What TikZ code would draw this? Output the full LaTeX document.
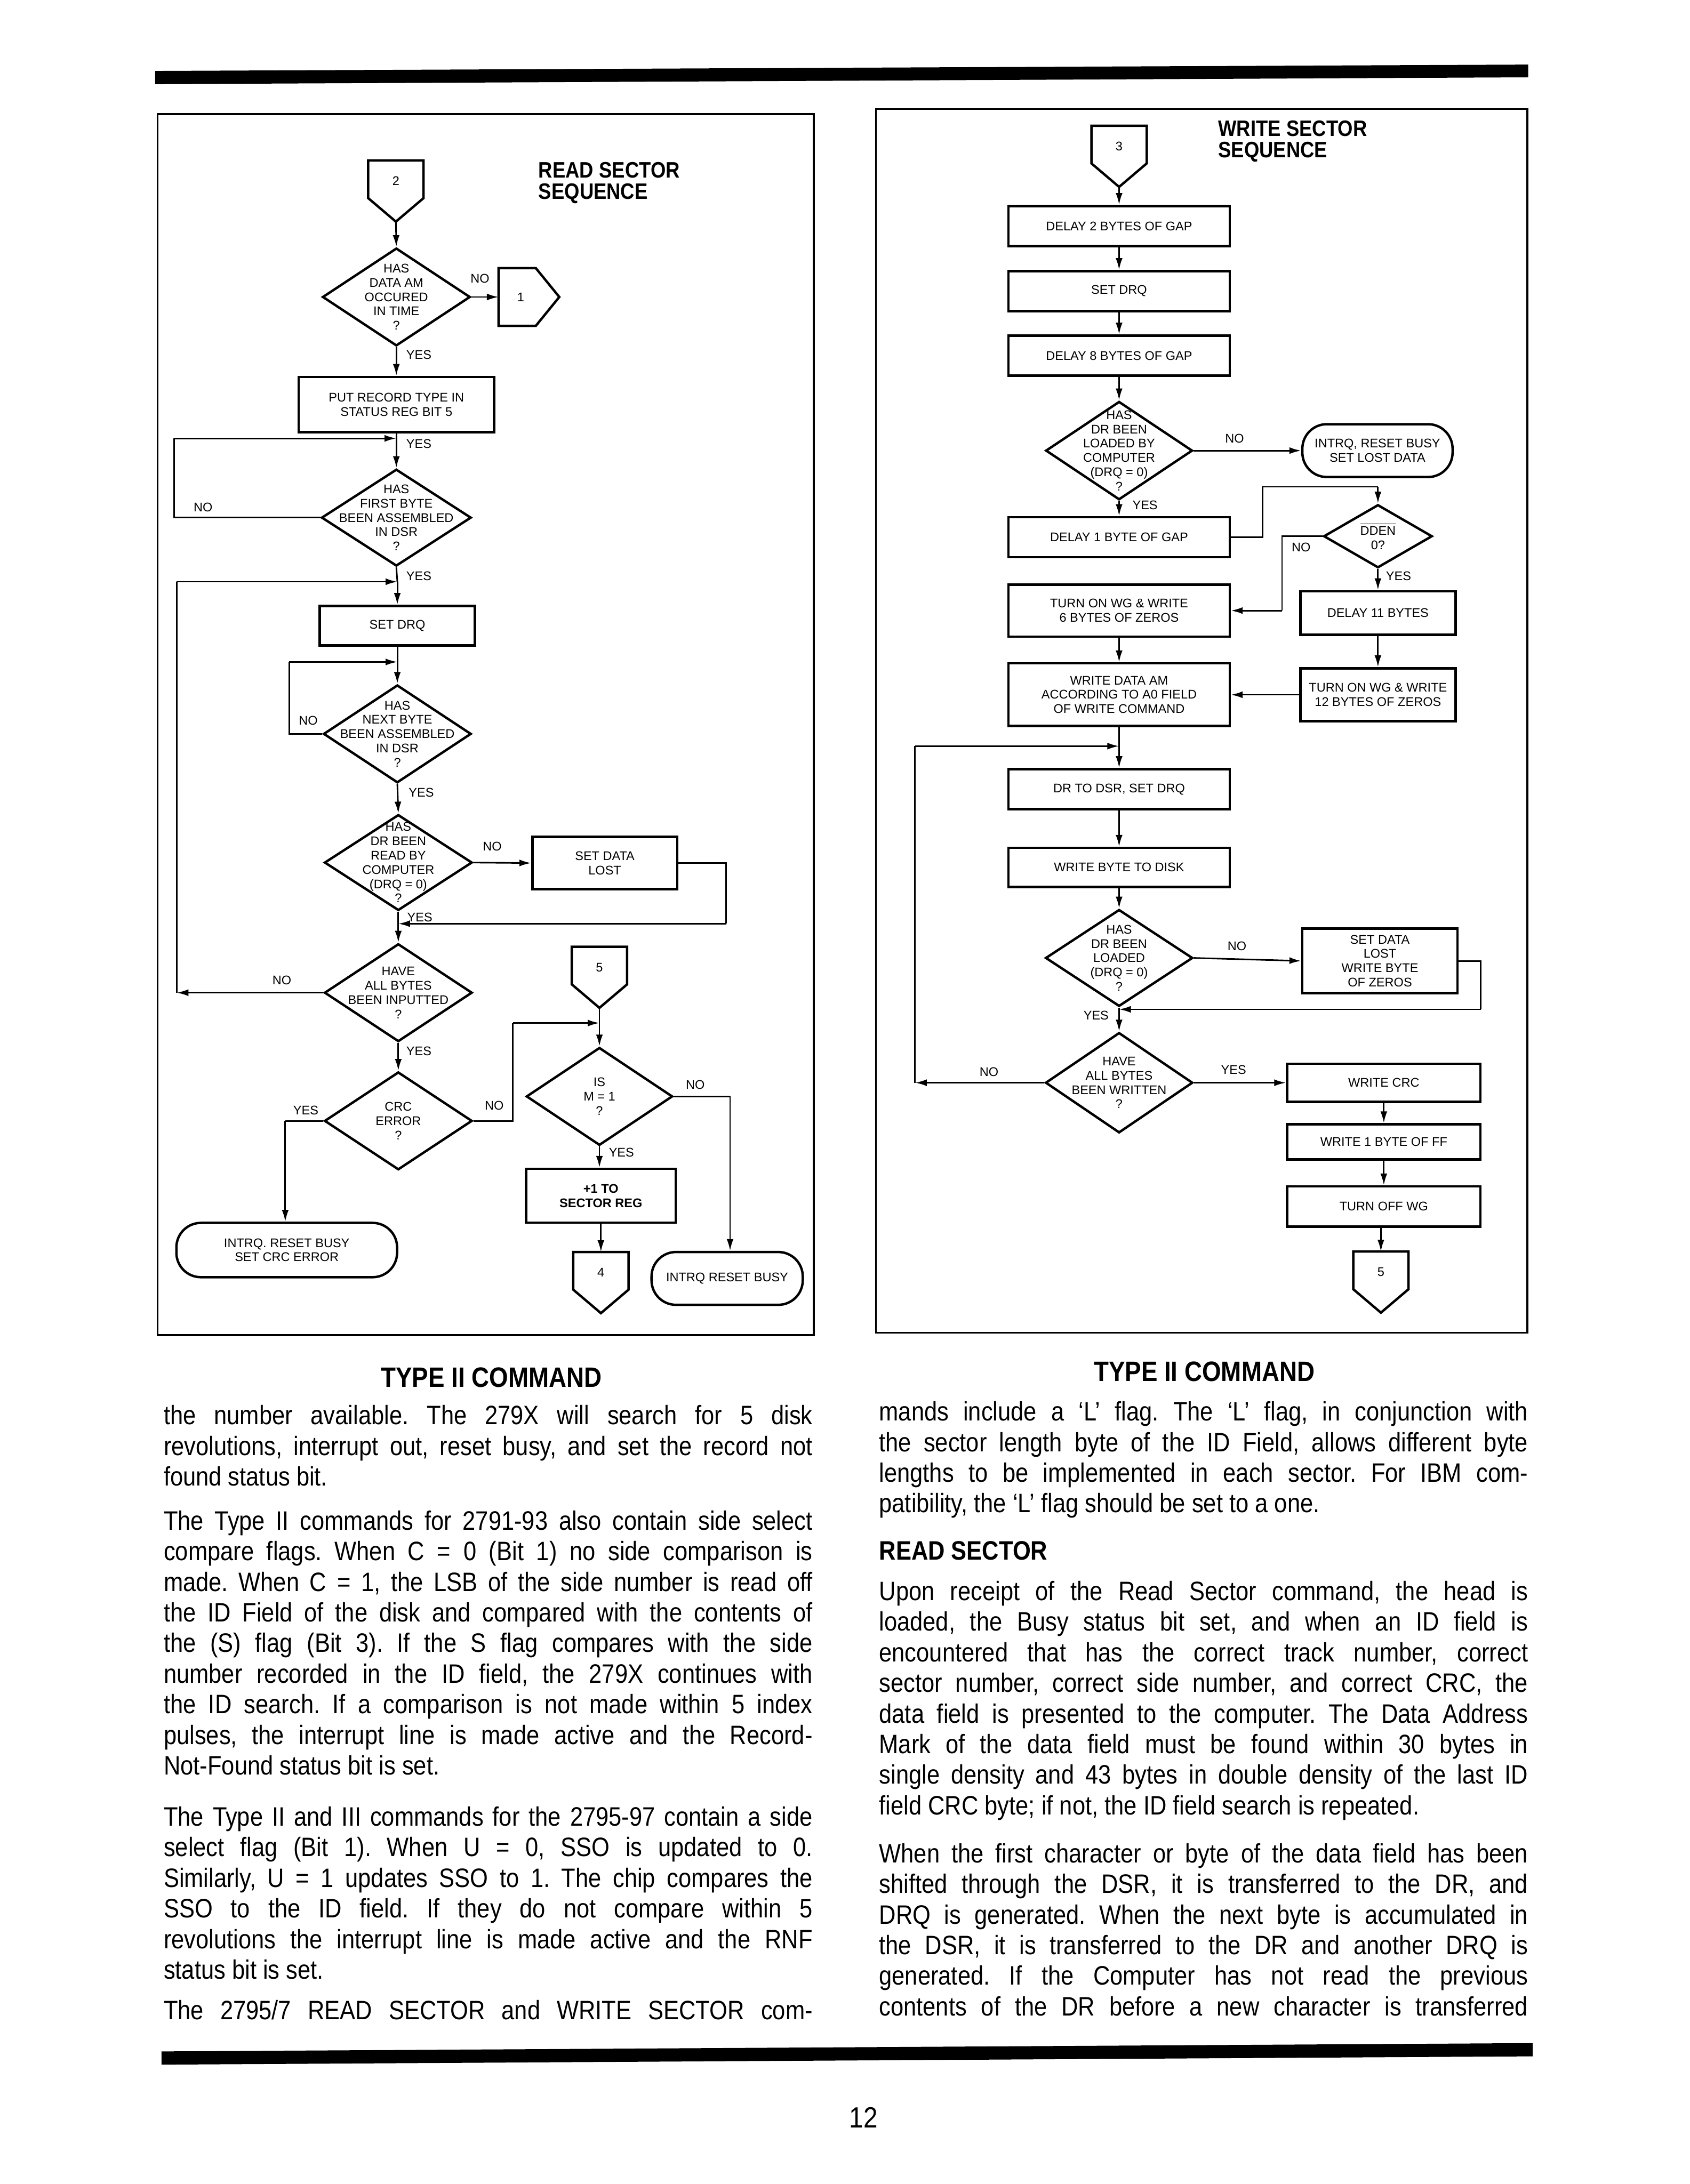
\documentclass[tikz,border=0pt]{standalone}
\usepackage{fontspec}
\setmainfont{Liberation Sans}
\newfontfamily\bodyface{Liberation Sans}[FakeStretch=0.87]
\usetikzlibrary{shapes.geometric,arrows.meta}

\newcommand{\flowfont}{\fontsize{7.3}{8.3}\selectfont}
\newcommand{\bodyfont}{\bodyface\fontsize{15.5}{17.8}\selectfont\frenchspacing}
\newcommand{\jline}[1]{\makebox[13.26cm][s]{\spaceskip=0pt\xspaceskip=0pt #1}}

\begin{document}
\begin{tikzpicture}[
    procbox/.style={draw, rectangle, line width=1.4pt, align=center, font=\flowfont, inner sep=1pt},
    wbox/.style={procbox, minimum width=4.52cm, minimum height=0.82cm},
    decision/.style={diamond, draw, line width=1.4pt, inner sep=0pt, minimum width=3.02cm, minimum height=2cm},
    dtext/.style={align=center, font=\flowfont, inner sep=0pt},
    terminal/.style={draw, rectangle, rounded corners=0.5cm, line width=1.4pt, align=center, font=\flowfont},
    offdown/.pic={
        \draw[line width=1.4pt] (-0.565,0) -- (0.565,0) -- (0.565,-0.77) -- (0,-1.25) -- (-0.565,-0.77) -- cycle;
        \node[font=\flowfont, inner sep=0pt] (-num) at (0,-0.42) {\tikzpictext};
        \coordinate (-top) at (0,0);
        \coordinate (-tip) at (0,-1.25);
    },
    offright/.pic={
        \draw[line width=1.4pt] (0,0.59) -- (0.76,0.59) -- (1.24,0) -- (0.76,-0.59) -- (0,-0.59) -- cycle;
        \node[font=\flowfont, inner sep=0pt] (-num) at (0.45,0) {\tikzpictext};
        \coordinate (-in) at (0,0);
    },
    yesno/.style={font=\flowfont, inner sep=0pt},
    flow/.style={line width=0.9pt, -{Latex[length=2.4mm,width=1.4mm]}},
    link/.style={line width=0.9pt},
    panel/.style={line width=1.1pt},
    seqtitle/.style={anchor=west, align=left, inner sep=0pt, font=\bodyface\bfseries\fontsize{13}{12.5}\selectfont},
    colhead/.style={inner sep=0pt, font=\bodyface\bfseries\fontsize{16.3}{18}\selectfont},
    para/.style={anchor=base west, text width=13.26cm, align=justify, inner sep=0pt, font=\bodyfont},
    pagenum/.style={inner sep=0pt, font=\bodyface\fontsize{17}{19}\selectfont}
]
    \useasboundingbox (0,0) rectangle (34.53,-44.64);
    % Page rules and panels
    \fill (3.17,-1.45) -- (31.23,-1.32) -- (31.23,-1.58) -- (3.17,-1.72) -- cycle;
    \fill (3.30,-41.93) -- (31.32,-41.76) -- (31.32,-42.03) -- (3.30,-42.20) -- cycle;
    \draw[panel] (3.22,-2.33) rectangle (16.63,-27.29);
    \draw[panel] (17.90,-2.23) rectangle (31.21,-27.24);

    % Nodes: read sector
    \node[seqtitle] (rtitle) at (11.00,-3.74) {READ SECTOR\\SEQUENCE};
    \pic[pic text=2] (c2) at (8.09,-3.28) {offdown};
    \node[decision] (d1) at (8.10,-6.07) {};
    \node[dtext] (d1t) at (d1) {HAS\\DATA AM\\OCCURED\\IN TIME\\?};
    \pic[pic text=1] (c1) at (10.19,-6.07) {offright};
    \node[procbox, minimum width=3.99cm, minimum height=1.13cm] (b1) at (8.10,-8.27) {PUT RECORD TYPE IN\\STATUS REG BIT 5};
    \coordinate (j1) at (8.10,-8.96);
    \node[decision, minimum width=3.06cm, minimum height=1.98cm] (d2) at (8.10,-10.58) {};
    \node[dtext] (d2t) at (d2) {HAS\\FIRST BYTE\\BEEN ASSEMBLED\\IN DSR\\?};
    \coordinate (n1a) at (3.56,-10.58);
    \coordinate (n1b) at (3.56,-8.96);
    \coordinate (j2) at (8.12,-11.89);
    \node[procbox, minimum width=3.17cm, minimum height=0.81cm] (b2) at (8.12,-12.79) {SET DRQ};
    \coordinate (j3) at (8.12,-13.53);
    \node[decision] (d3) at (8.12,-15.00) {};
    \node[dtext] (d3t) at (d3) {HAS\\NEXT BYTE\\BEEN ASSEMBLED\\IN DSR\\?};
    \coordinate (n2a) at (5.91,-15.00);
    \coordinate (n2b) at (5.91,-13.53);
    \node[decision, minimum height=1.96cm] (d4) at (8.14,-17.63) {};
    \node[dtext] (d4t) at (d4) {HAS\\DR BEEN\\READ BY\\COMPUTER\\(DRQ = 0)\\?};
    \node[procbox, minimum width=2.96cm, minimum height=1.07cm] (b3) at (12.36,-17.64) {SET DATA\\LOST};
    \coordinate (n3a) at (14.84,-17.64);
    \coordinate (n3b) at (14.84,-18.88);
    \coordinate (j4) at (8.14,-18.88);
    \node[decision] (d5) at (8.14,-20.29) {};
    \node[dtext] (d5t) at (d5) {HAVE\\ALL BYTES\\BEEN INPUTTED\\?};
    \coordinate (n4a) at (3.61,-20.29);
    \coordinate (n4b) at (3.61,-11.89);
    \node[decision] (d6) at (8.14,-22.91) {};
    \node[dtext] (d6t) at (d6) {CRC\\ERROR\\?};
    \coordinate (n5a) at (5.83,-22.91);
    \node[terminal, minimum width=4.51cm, minimum height=1.11cm] (t1) at (5.86,-25.55) {INTRQ. RESET BUSY\\SET CRC ERROR};
    \coordinate (n6a) at (10.48,-22.91);
    \coordinate (n6b) at (10.48,-20.91);
    \coordinate (j5) at (12.25,-20.91);
    \pic[pic text=5] (c5) at (12.25,-19.35) {offdown};
    \node[decision, minimum width=2.99cm] (d7) at (12.25,-22.41) {};
    \node[dtext] (d7t) at (d7) {IS\\M = 1\\?};
    \coordinate (n7a) at (14.92,-22.41);
    \node[procbox, minimum width=3.06cm, minimum height=1.10cm, font=\flowfont\bfseries] (b4) at (12.28,-24.44) {+1 TO\\SECTOR REG};
    \pic[pic text=4] (c4) at (12.28,-25.59) {offdown};
    \node[terminal, minimum width=3.09cm, minimum height=1.08cm] (t2) at (14.86,-26.13) {INTRQ RESET BUSY};

    % Labels: read sector
    \node[yesno] (no1) at (9.81,-5.69) {NO};
    \node[yesno] (yes1) at (8.56,-7.25) {YES};
    \node[yesno] (yes2) at (8.56,-9.07) {YES};
    \node[yesno] (no2) at (4.15,-10.37) {NO};
    \node[yesno] (yes3) at (8.56,-11.77) {YES};
    \node[yesno] (no3) at (6.30,-14.73) {NO};
    \node[yesno] (yes4) at (8.61,-16.20) {YES};
    \node[yesno] (no4) at (10.06,-17.30) {NO};
    \node[yesno] (yes5) at (8.58,-18.75) {YES};
    \node[yesno] (no5) at (5.76,-20.03) {NO};
    \node[yesno] (yes6) at (8.56,-21.48) {YES};
    \node[yesno] (yes7) at (6.25,-22.69) {YES};
    \node[yesno] (no6) at (10.10,-22.60) {NO};
    \node[yesno] (no7) at (14.21,-22.17) {NO};
    \node[yesno] (yes8) at (12.70,-23.55) {YES};

    % Edges: read sector
    \draw[flow] (c2-tip) -- (d1.north);
    \draw[flow] (d1.east) -- (c1-in);
    \draw[flow] (d1.south) -- (b1.north);
    \draw[link] (b1.south) -- (j1);
    \draw[flow] (j1) -- (d2.north);
    \draw[link] (d2.west) -- (n1a) -- (n1b);
    \draw[flow] (n1b) -- (j1);
    \draw[link] (d2.south) -- (j2);
    \draw[flow] (j2) -- (b2.north);
    \draw[link] (b2.south) -- (j3);
    \draw[flow] (j3) -- (d3.north);
    \draw[link] (d3.west) -- (n2a) -- (n2b);
    \draw[flow] (n2b) -- (j3);
    \draw[flow] (d3.south) -- (d4.north);
    \draw[flow] (d4.east) -- (b3.west);
    \draw[link] (b3.east) -- (n3a) -- (n3b);
    \draw[flow] (n3b) -- (j4);
    \draw[link] (d4.south) -- (j4);
    \draw[flow] (j4) -- (d5.north);
    \draw[flow] (d5.west) -- (n4a);
    \draw[link] (n4a) -- (n4b);
    \draw[flow] (n4b) -- (j2);
    \draw[flow] (d5.south) -- (d6.north);
    \draw[link] (d6.west) -- (n5a);
    \draw[flow] (n5a) -- (t1.north -| n5a);
    \draw[link] (d6.east) -- (n6a) -- (n6b);
    \draw[flow] (n6b) -- (j5);
    \draw[link] (c5-tip) -- (j5);
    \draw[flow] (j5) -- (d7.north);
    \draw[flow] (d7.south) -- (b4.north -| d7.south);
    \draw[flow] (b4.south) -- (c4-top);
    \draw[link] (d7.east) -- (n7a);
    \draw[flow] (n7a) -- (t2.north -| n7a);

    % Nodes: write sector
    \node[seqtitle] (wtitle) at (24.89,-2.885) {WRITE SECTOR\\SEQUENCE};
    \pic[pic text=3] (c3) at (22.87,-2.57) {offdown};
    \node[wbox] (b5) at (22.87,-4.62) {DELAY 2 BYTES OF GAP};
    \node[wbox] (b6) at (22.87,-5.95) {SET DRQ};
    \node[wbox] (b7) at (22.87,-7.27) {DELAY 8 BYTES OF GAP};
    \node[decision, minimum width=3.0cm, minimum height=2.01cm] (d8) at (22.87,-9.21) {};
    \node[dtext] (d8t) at (d8) {HAS\\DR BEEN\\LOADED BY\\COMPUTER\\(DRQ = 0)\\?};
    \node[terminal, minimum width=3.07cm, minimum height=1.08cm] (t3) at (28.15,-9.21) {INTRQ, RESET BUSY\\SET LOST DATA};
    \node[wbox] (b8) at (22.87,-10.98) {DELAY 1 BYTE OF GAP};
    \coordinate (m1a) at (25.80,-10.98);
    \coordinate (m1b) at (25.80,-9.95);
    \coordinate (m1c) at (28.16,-9.95);
    \node[decision, minimum width=2.22cm, minimum height=1.29cm] (d9) at (28.16,-10.96) {};
    \node[dtext] (d9t) at (d9) {$\overline{\hbox{DDEN}}$\\0?};
    \coordinate (m2a) at (26.20,-10.96);
    \coordinate (m2b) at (26.20,-12.48);
    \node[procbox, minimum width=4.52cm, minimum height=1.06cm] (b9) at (22.87,-12.48) {TURN ON WG \& WRITE\\6 BYTES OF ZEROS};
    \node[procbox, minimum width=3.17cm, minimum height=0.89cm] (b10) at (28.16,-12.53) {DELAY 11 BYTES};
    \node[procbox, minimum width=3.17cm, minimum height=1.08cm] (b11) at (28.16,-14.20) {TURN ON WG \& WRITE\\12 BYTES OF ZEROS};
    \node[procbox, minimum width=4.52cm, minimum height=1.28cm] (b12) at (22.87,-14.20) {WRITE DATA AM\\ACCORDING TO A0 FIELD\\OF WRITE COMMAND};
    \coordinate (j6) at (22.87,-15.25);
    \node[wbox] (b13) at (22.87,-16.13) {DR TO DSR, SET DRQ};
    \node[wbox, minimum height=0.80cm] (b14) at (22.87,-17.73) {WRITE BYTE TO DISK};
    \node[decision, minimum width=3.01cm, minimum height=1.98cm] (d10) at (22.87,-19.58) {};
    \node[dtext] (d10t) at (d10) {HAS\\DR BEEN\\LOADED\\(DRQ = 0)\\?};
    \node[procbox, minimum width=3.17cm, minimum height=1.32cm] (b15) at (28.20,-19.64) {SET DATA\\LOST\\WRITE BYTE\\OF ZEROS};
    \coordinate (m3a) at (30.26,-19.64);
    \coordinate (m3b) at (30.26,-20.63);
    \coordinate (j7) at (22.87,-20.63);
    \node[decision, minimum width=3.01cm, minimum height=2.05cm] (d11) at (22.87,-22.13) {};
    \node[dtext] (d11t) at (d11) {HAVE\\ALL BYTES\\BEEN WRITTEN\\?};
    \coordinate (m4a) at (18.70,-22.13);
    \coordinate (m4b) at (18.70,-15.25);
    \node[procbox, minimum width=3.95cm, minimum height=0.78cm] (b16) at (28.28,-22.13) {WRITE CRC};
    \node[procbox, minimum width=3.95cm, minimum height=0.72cm] (b17) at (28.28,-23.34) {WRITE 1 BYTE OF FF};
    \node[procbox, minimum width=3.95cm, minimum height=0.82cm] (b18) at (28.28,-24.66) {TURN OFF WG};
    \pic[pic text=5] (c6) at (28.22,-25.58) {offdown};

    % Labels: write sector
    \node[yesno] (no8) at (25.23,-8.96) {NO};
    \node[yesno] (yes9) at (23.40,-10.32) {YES};
    \node[yesno] (no9) at (26.59,-11.19) {NO};
    \node[yesno] (yes10) at (28.58,-11.77) {YES};
    \node[yesno] (no10) at (25.28,-19.34) {NO};
    \node[yesno] (yes11) at (22.40,-20.76) {YES};
    \node[yesno] (no11) at (20.21,-21.91) {NO};
    \node[yesno] (yes12) at (25.21,-21.87) {YES};

    % Edges: write sector
    \draw[flow] (c3-tip) -- (b5.north);
    \draw[flow] (b5) -- (b6);
    \draw[flow] (b6) -- (b7);
    \draw[flow] (b7.south) -- (d8.north);
    \draw[flow] (d8.east) -- (t3.west);
    \draw[flow] (d8.south) -- (b8.north);
    \draw[link] (b8.east) -- (m1a) -- (m1b) -- (m1c);
    \draw[flow] (m1c) -- (d9.north);
    \draw[link] (d9.west) -- (m2a) -- (m2b);
    \draw[flow] (m2b) -- (b9.east);
    \draw[flow] (d9.south) -- (b10.north);
    \draw[flow] (b10) -- (b11);
    \draw[flow] (b11.west) -- (b12.east);
    \draw[flow] (b9) -- (b12);
    \draw[link] (b12.south) -- (j6);
    \draw[flow] (j6) -- (b13.north);
    \draw[flow] (b13) -- (b14);
    \draw[flow] (b14.south) -- (d10.north);
    \draw[flow] (d10.east) -- (b15.west);
    \draw[link] (b15.east) -- (m3a) -- (m3b);
    \draw[flow] (m3b) -- (j7);
    \draw[link] (d10.south) -- (j7);
    \draw[flow] (j7) -- (d11.north);
    \draw[flow] (d11.west) -- (m4a);
    \draw[link] (m4a) -- (m4b);
    \draw[flow] (m4b) -- (j6);
    \draw[flow] (d11.east) -- (b16.west);
    \draw[flow] (b16) -- (b17);
    \draw[flow] (b17) -- (b18);
    \draw[flow] (b18.south -| c6-top) -- (c6-top);

    % Text columns
    \node[colhead] (h1) at (10.04,-28.16) {TYPE II COMMAND};
    \node[colhead] (h2) at (24.61,-28.03) {TYPE II COMMAND};
    \node[para] (p1) at (3.34,-29.12) {%
        \jline{the number available. The 279X will search for 5 disk}\\
        \jline{revolutions, interrupt out, reset busy, and set the record not}\\
        found status bit.};
    \node[para] (p2) at (3.34,-31.27) {%
        \jline{The Type II commands for 2791-93 also contain side select}\\
        \jline{compare flags. When C = 0 (Bit 1) no side comparison is}\\
        \jline{made. When C = 1, the LSB of the side number is read off}\\
        \jline{the ID Field of the disk and compared with the contents of}\\
        \jline{the (S) flag (Bit 3). If the S flag compares with the side}\\
        \jline{number recorded in the ID field, the 279X continues with}\\
        \jline{the ID search. If a comparison is not made within 5 index}\\
        \jline{pulses, the interrupt line is made active and the Record-}\\
        Not-Found status bit is set.};
    \node[para] (p3) at (3.34,-37.32) {%
        \jline{The Type II and III commands for the 2795-97 contain a side}\\
        \jline{select flag (Bit 1). When U = 0, SSO is updated to 0.}\\
        \jline{Similarly, U = 1 updates SSO to 1. The chip compares the}\\
        \jline{SSO to the ID field. If they do not compare within 5}\\
        \jline{revolutions the interrupt line is made active and the RNF}\\
        status bit is set.};
    \node[para] (p4) at (3.34,-41.28) {%
        \jline{The 2795/7 READ SECTOR and WRITE SECTOR com-}};
    \node[para] (p5) at (17.96,-29.04) {%
        \jline{mands include a ‘L’ flag. The ‘L’ flag, in conjunction with}\\
        \jline{the sector length byte of the ID Field, allows different byte}\\
        \jline{lengths to be implemented in each sector. For IBM com-}\\
        patibility, the ‘L’ flag should be set to a one.};
    \node[colhead, anchor=west, font=\bodyface\bfseries\fontsize{15.5}{17}\selectfont] (h3) at (17.96,-31.70) {READ SECTOR};
    \node[para] (p6) at (17.96,-32.71) {%
        \jline{Upon receipt of the Read Sector command, the head is}\\
        \jline{loaded, the Busy status bit set, and when an ID field is}\\
        \jline{encountered that has the correct track number, correct}\\
        \jline{sector number, correct side number, and correct CRC, the}\\
        \jline{data field is presented to the computer. The Data Address}\\
        \jline{Mark of the data field must be found within 30 bytes in}\\
        \jline{single density and 43 bytes in double density of the last ID}\\
        field CRC byte; if not, the ID field search is repeated.};
    \node[para] (p7) at (17.96,-38.07) {%
        \jline{When the first character or byte of the data field has been}\\
        \jline{shifted through the DSR, it is transferred to the DR, and}\\
        \jline{DRQ is generated. When the next byte is accumulated in}\\
        \jline{the DSR, it is transferred to the DR and another DRQ is}\\
        \jline{generated. If the Computer has not read the previous}\\
        \jline{contents of the DR before a new character is transferred}};
    \node[pagenum] (pg) at (17.65,-43.28) {12};
\end{tikzpicture}
\end{document}
